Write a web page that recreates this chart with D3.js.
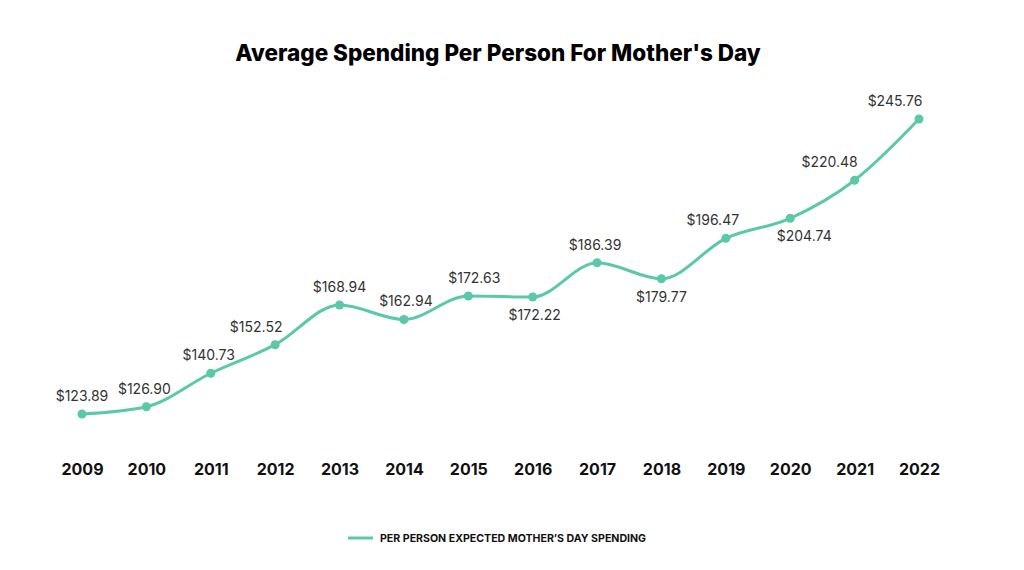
<!DOCTYPE html>
<html>
<head>
<meta charset="utf-8">
<script src="https://cdn.jsdelivr.net/npm/d3@7"></script>
<style>
  body { margin: 0; background: #fff; }
  text { font-family: Inter, "Noto Sans", sans-serif; }
</style>
</head>
<body>
<div id="app"></div>
<script>
const years = ['2009', '2010', '2011', '2012', '2013', '2014', '2015', '2016', '2017', '2018', '2019', '2020', '2021', '2022'];
const spending = [123.89, 126.90, 140.73, 152.52, 168.94, 162.94, 172.63, 172.22, 186.39, 179.77, 196.47, 204.74, 220.48, 245.76];
// labels that sit under their point instead of above
const labelBelow = ['2016', '2018', '2020'];
// sideways nudge of some labels so they clear the line
const labelNudge = [0, -2, -2, -19, 0, 2, 6, 2, -2, 0, -13, 14, -25, -24];

const COLOR = '#5bc8a8';
const width = 1024, height = 570;

const svg = d3.select('#app').append('svg')
  .attr('width', width)
  .attr('height', height);

svg.append('text')
  .attr('x', 498)
  .attr('y', 61)
  .attr('text-anchor', 'middle')
  .style('font-size', '22.5px')
  .style('font-weight', 800)
  .attr('fill', '#000')
  .text('Average Spending Per Person For Mother\'s Day');

const x = d3.scalePoint()
  .domain(years)
  .range([82, 919]);

const y = d3.scaleLinear()
  .domain([123.89, 245.76])
  .range([414, 119]);

const data = years.map((yr, i) => ({ year: yr, value: spending[i], nudge: labelNudge[i] }));

const line = d3.line()
  .x(d => x(d.year))
  .y(d => y(d.value))
  .curve(d3.curveMonotoneX);

svg.append('path')
  .datum(data)
  .attr('fill', 'none')
  .attr('stroke', COLOR)
  .attr('stroke-width', 3)
  .attr('d', line);

svg.selectAll('.dot')
  .data(data)
  .enter()
  .append('circle')
  .attr('class', 'dot')
  .attr('cx', d => x(d.year))
  .attr('cy', d => y(d.value))
  .attr('r', 4.5)
  .attr('fill', COLOR);

svg.selectAll('.label')
  .data(data)
  .enter()
  .append('text')
  .attr('class', 'label')
  .attr('x', d => x(d.year) + d.nudge)
  .attr('y', d => labelBelow.includes(d.year) ? y(d.value) + 23 : y(d.value) - 13)
  .attr('text-anchor', 'middle')
  .style('font-size', '14px')
  .attr('fill', '#333')
  .text(d => '$' + d.value.toFixed(2));

// x axis: year labels only
const xAxis = d3.axisBottom(x).tickSize(0).tickPadding(0);
const gx = svg.append('g')
  .attr('transform', 'translate(0,464)')
  .call(xAxis);
gx.select('.domain').remove();
gx.selectAll('text')
  .style('font-family', 'Inter, "Noto Sans", sans-serif')
  .style('font-size', '16px')
  .style('font-weight', 700)
  .attr('fill', '#111');

// legend
const legend = svg.append('g').attr('transform', 'translate(348,538)');
legend.append('line')
  .attr('x1', 0).attr('x2', 25)
  .attr('y1', 0).attr('y2', 0)
  .attr('stroke', COLOR)
  .attr('stroke-width', 3);
legend.append('text')
  .attr('x', 32)
  .attr('y', 4)
  .style('font-size', '10.6px')
  .style('font-weight', 700)
  .attr('fill', '#111')
  .text('PER PERSON EXPECTED MOTHER\u2019S DAY SPENDING');
</script>
</body>
</html>
